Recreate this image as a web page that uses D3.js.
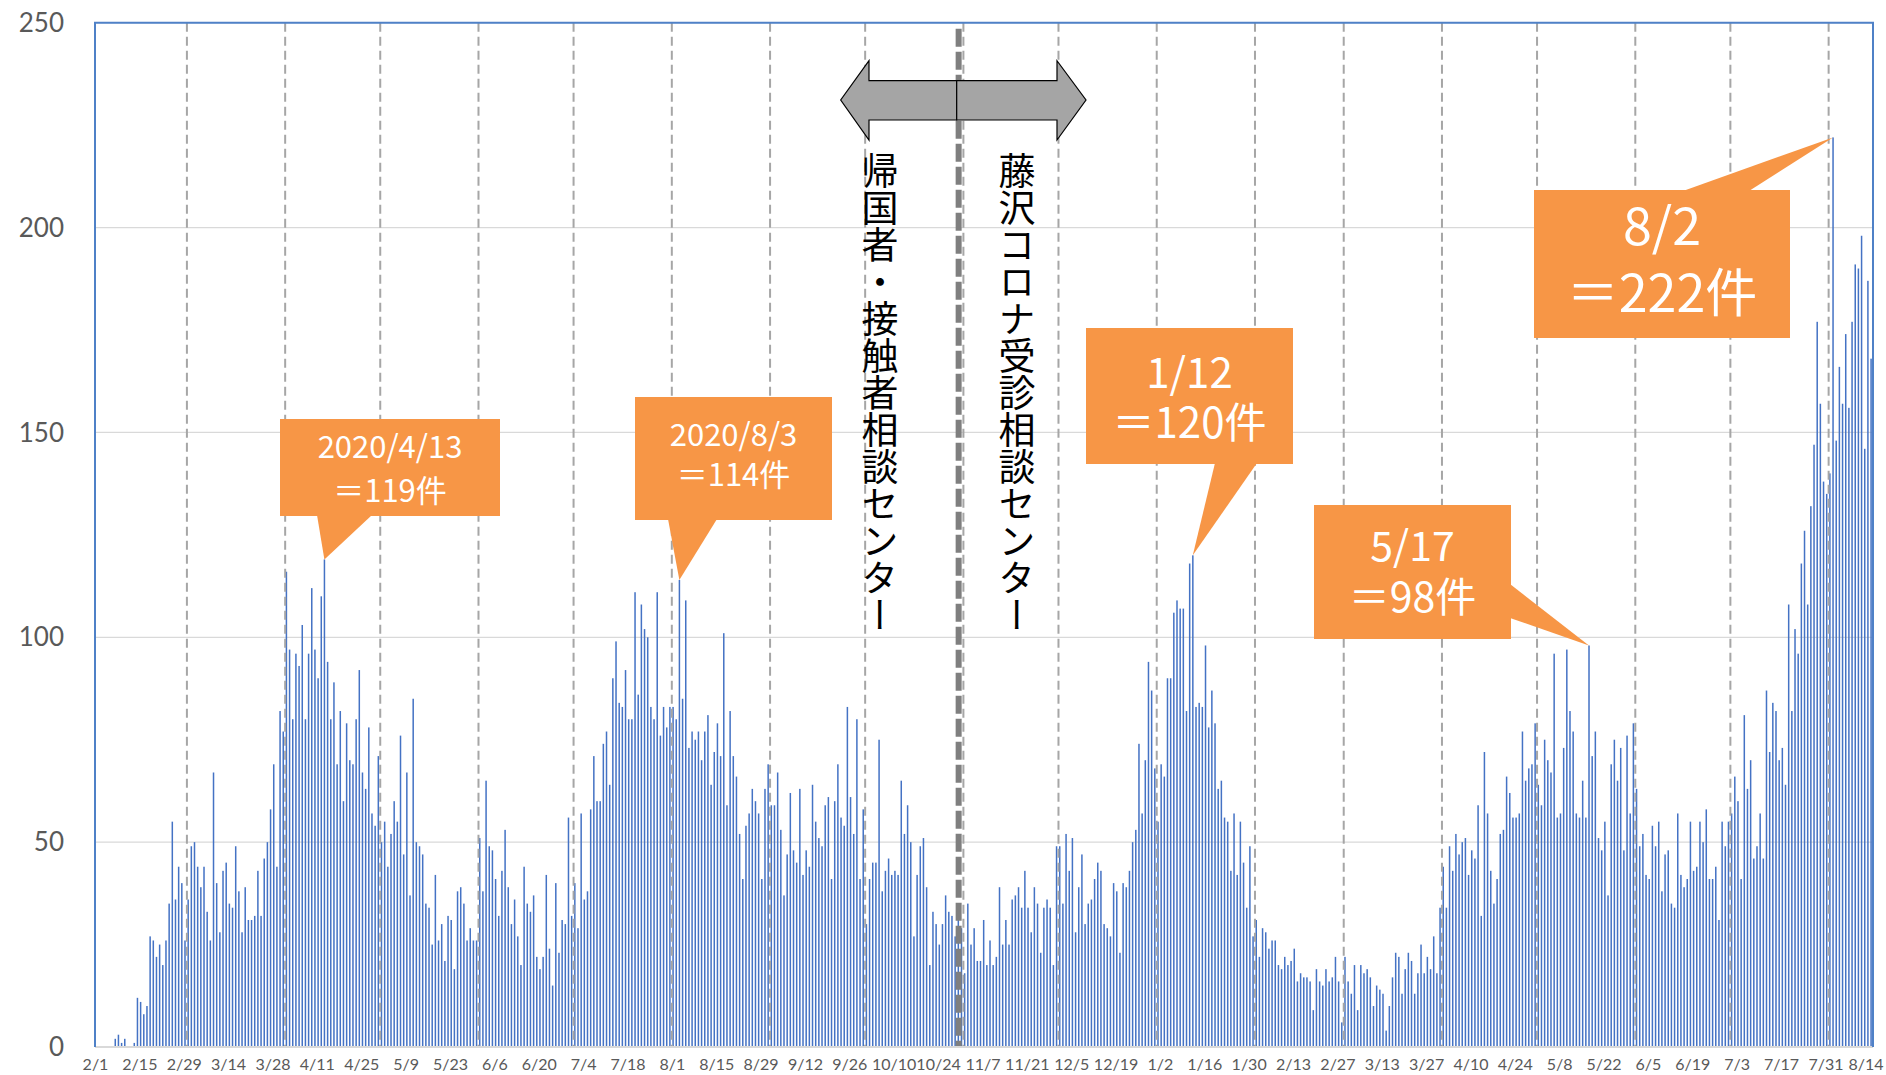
<!DOCTYPE html>
<html>
<head>
<meta charset="utf-8">
<script src="https://cdn.jsdelivr.net/npm/d3@7"></script>
<style>
body { margin: 0; background: #fff; }
</style>
</head>
<body>
<div id="chart"></div>
<script>
// daily consultation counts, 2020/2/1 - 2020/12/31
var counts2020 = [
    0, 0, 0, 0, 0, 0, 2, 3, 1, 2, 0, 0, 1, 12, 11, 8, 10, 27, 26, 22, 25, 20, 26, 35, 55, 36, 44, 40, 26,
    36, 49, 50, 44, 39, 44, 33, 26, 67, 40, 28, 43, 45, 35, 34, 49, 38, 28, 39, 31, 31, 32, 43, 32, 46, 50, 58, 69, 44, 82, 77,
    116, 97, 80, 96, 93, 103, 80, 96, 112, 97, 90, 110, 119, 94, 80, 89, 69, 82, 60, 79, 70, 69, 80, 92, 67, 63, 78, 57, 54, 71,
    50, 55, 44, 52, 60, 55, 76, 47, 67, 37, 85, 50, 49, 47, 35, 34, 25, 42, 26, 30, 21, 32, 31, 19, 38, 39, 35, 26, 29, 26, 26,
    51, 38, 65, 49, 48, 41, 32, 43, 53, 39, 30, 36, 27, 20, 44, 35, 33, 37, 22, 19, 22, 42, 24, 15, 40, 23, 31, 30, 56, 32,
    40, 29, 57, 36, 38, 58, 71, 60, 60, 74, 77, 64, 90, 99, 84, 83, 92, 80, 80, 111, 86, 108, 102, 100, 83, 80, 111, 76, 83, 78, 83,
    83, 80, 114, 85, 109, 73, 77, 75, 77, 70, 77, 81, 64, 72, 79, 71, 101, 59, 82, 71, 66, 52, 41, 54, 57, 63, 60, 57, 41, 63, 69,
    59, 59, 67, 53, 37, 47, 62, 48, 45, 63, 42, 48, 44, 64, 55, 51, 49, 59, 61, 41, 60, 69, 56, 54, 83, 61, 52, 80, 41, 58,
    30, 41, 45, 45, 75, 38, 43, 46, 42, 43, 42, 65, 52, 59, 50, 27, 42, 49, 51, 39, 20, 33, 30, 25, 30, 37, 33, 32, 27, 33, 29,
    18, 35, 25, 29, 21, 21, 31, 20, 26, 20, 22, 39, 25, 31, 25, 36, 37, 39, 34, 43, 34, 28, 39, 35, 23, 34, 36, 34, 20, 49,
    49, 35, 52, 43, 51, 28, 39, 47, 30, 35, 36, 41, 45, 43, 30, 29, 27, 40, 38, 23, 40, 39, 43, 50, 53, 74, 57, 70, 94, 87, 68
];

// 2021/1/1 - 2021/8/14
var counts2021 = [
    55, 69, 66, 90, 90, 106, 109, 107, 107, 82, 118, 120, 83, 84, 83, 98, 78, 87, 79, 63, 65, 56, 55, 43, 57, 42, 55, 45, 34, 49, 27,
    31, 22, 29, 28, 24, 26, 26, 20, 19, 22, 20, 21, 24, 16, 18, 17, 17, 16, 9, 19, 16, 15, 19, 16, 17, 22, 16, 6,
    22, 16, 13, 20, 9, 20, 18, 19, 17, 10, 15, 14, 13, 4, 10, 17, 23, 22, 13, 19, 23, 21, 13, 18, 25, 18, 22, 19, 27, 18, 34,
    44, 34, 49, 43, 52, 47, 50, 51, 42, 48, 46, 59, 32, 72, 57, 43, 35, 41, 52, 53, 66, 62, 56, 56, 57, 77, 65, 68, 69, 79,
    64, 59, 75, 70, 67, 96, 56, 57, 73, 97, 82, 77, 57, 56, 65, 56, 98, 71, 77, 51, 48, 55, 37, 69, 75, 65, 73, 48, 76, 57, 79,
    63, 49, 52, 42, 41, 54, 49, 55, 38, 47, 48, 35, 34, 57, 42, 39, 41, 55, 43, 44, 55, 50, 58, 41, 41, 44, 31, 55, 49, 55,
    57, 66, 60, 41, 81, 63, 70, 46, 49, 57, 46, 87, 72, 84, 82, 70, 73, 64, 108, 82, 102, 96, 118, 126, 108, 132, 147, 177, 157, 138, 135,
    140, 222, 148, 166, 157, 174, 156, 177, 191, 190, 198, 146, 187, 168
];

var yTicks = [0, 50, 100, 150, 200, 250];

var calloutDates = ["2020-04-13", "2020-08-03", "2021-01-12", "2021-05-17", "2021-08-02"];
var calloutValues = [119, 114, 120, 98, 222];
var calloutLines = [
    ["2020/4/13", "＝119件"],
    ["2020/8/3", "＝114件"],
    ["1/12", "＝120件"],
    ["5/17", "＝98件"],
    ["8/2", "＝222件"]
];

var centerNames = ["帰国者・接触者相談センター", "藤沢コロナ受診相談センター"];

var DAY = 864e5;
var start = Date.UTC(2020, 1, 1);
var end = Date.UTC(2021, 7, 15);

var data = counts2020.concat(counts2021).map(function (v, i) {
    return { date: new Date(start + i * DAY), value: v };
});

var W = 1886, H = 1075;
var plotLeft = 95, plotRight = 1873, plotTop = 22.7, plotBottom = 1047;

var x = d3.scaleUtc().domain([start, end]).range([plotLeft, plotRight]);
var y = d3.scaleLinear().domain([0, 250]).range([plotBottom, plotTop]);

var svg = d3.select("#chart").append("svg")
    .attr("width", W)
    .attr("height", H)
    .style("background", "#fff");

// horizontal grid
svg.append("g")
    .selectAll("line")
    .data(yTicks.slice(1))
    .enter().append("line")
    .attr("x1", plotLeft).attr("x2", plotRight)
    .attr("y1", function (d) { return y(d); })
    .attr("y2", function (d) { return y(d); })
    .attr("stroke", "#d9d9d9")
    .attr("stroke-width", 1.3);

// bars
svg.append("g")
    .selectAll("rect")
    .data(data)
    .enter().append("rect")
    .attr("x", function (d) { return x(d.date) + 0.5; })
    .attr("width", 1.5)
    .attr("y", function (d) { return y(d.value); })
    .attr("height", function (d) { return plotBottom - y(d.value); })
    .attr("fill", "#4472c4");

// month separators
var months = d3.utcMonth.range(new Date(Date.UTC(2020, 2, 1)), new Date(end));
svg.append("g")
    .selectAll("line")
    .data(months)
    .enter().append("line")
    .attr("x1", function (d) { return x(d); })
    .attr("x2", function (d) { return x(d); })
    .attr("y1", plotTop).attr("y2", plotBottom)
    .attr("stroke", "#a6a6a6")
    .attr("stroke-width", 2)
    .attr("stroke-dasharray", "9,5");

// switch of the consultation center
var switchX = x(new Date(Date.UTC(2020, 9, 30, 12)));
svg.append("line")
    .attr("x1", switchX).attr("x2", switchX)
    .attr("y1", plotTop + 6).attr("y2", plotBottom)
    .attr("stroke", "#7f7f7f")
    .attr("stroke-width", 6)
    .attr("stroke-dasharray", "18,5");

// axis base and plot border
svg.append("line")
    .attr("x1", plotLeft).attr("x2", plotRight)
    .attr("y1", plotBottom).attr("y2", plotBottom)
    .attr("stroke", "#d9d9d9")
    .attr("stroke-width", 2);
svg.append("path")
    .attr("d", "M" + plotLeft + "," + plotBottom + "V" + plotTop + "H" + plotRight + "V" + plotBottom)
    .attr("fill", "none")
    .attr("stroke", "#4f81c7")
    .attr("stroke-width", 2);

// y labels
svg.append("g")
    .selectAll("text")
    .data(yTicks)
    .enter().append("text")
    .attr("x", 64)
    .attr("y", function (d) { return y(d); })
    .attr("dy", "0.35em")
    .attr("text-anchor", "end")
    .attr("font-family", "Lato, 'Noto Sans', sans-serif")
    .attr("font-size", 26)
    .attr("fill", "#595959")
    .text(function (d) { return d; });

// x labels every 14 days
var xTicks = d3.range(0, 561, 14).map(function (i) { return new Date(start + i * DAY); });
var xaxis = svg.append("g")
    .attr("transform", "translate(0," + (plotBottom + 9) + ")")
    .call(d3.axisBottom(x).tickValues(xTicks).tickSize(0).tickFormat(d3.utcFormat("%-m/%-d")));
xaxis.select(".domain").remove();
xaxis.selectAll("text")
    .attr("font-family", "Lato, 'Noto Sans', sans-serif")
    .attr("font-size", 16)
    .attr("fill", "#595959");
// keep the last label inside the page
xaxis.selectAll(".tick").filter(function (d, i, n) { return i == n.length - 1; })
    .select("text")
    .attr("text-anchor", "end")
    .attr("x", W - 3 - x(xTicks[xTicks.length - 1]));

// callouts
var boxes = [
    { x: 280, y: 419, w: 220, h: 97, side: "bottom", b: [317, 372], fs: 31, ty: [447, 491] },
    { x: 635, y: 397, w: 197, h: 123, side: "bottom", b: [668, 717], fs: 31, ty: [435, 475] },
    { x: 1086, y: 328, w: 207, h: 136, side: "bottom", b: [1215, 1257], fs: 42, ty: [373, 423] },
    { x: 1314, y: 505, w: 197, h: 134, side: "right", b: [584, 618], fs: 41, ty: [546, 597] },
    { x: 1534, y: 190, w: 256, h: 148, side: "top", b: [1683, 1749], fs: 52, ty: [226, 293] }
];

var callouts = svg.append("g");
boxes.forEach(function (bx, i) {
    var tipX = x(new Date(calloutDates[i] + "T00:00:00Z")) + 1.2;
    var tipY = y(calloutValues[i]);
    var pts;
    if (bx.side == "bottom") {
        pts = [[bx.b[0], bx.y + bx.h - 1], [tipX, tipY], [bx.b[1], bx.y + bx.h - 1]];
    } else if (bx.side == "right") {
        pts = [[bx.x + bx.w - 1, bx.b[0]], [tipX, tipY], [bx.x + bx.w - 1, bx.b[1]]];
    } else {
        pts = [[bx.b[0], bx.y + 1], [tipX, tipY], [bx.b[1], bx.y + 1]];
    }
    callouts.append("rect")
        .attr("x", bx.x).attr("y", bx.y)
        .attr("width", bx.w).attr("height", bx.h)
        .attr("fill", "#f79646");
    callouts.append("polygon")
        .attr("points", pts.map(function (p) { return p.join(","); }).join(" "))
        .attr("fill", "#f79646");
    calloutLines[i].forEach(function (t, j) {
        callouts.append("text")
            .attr("x", bx.x + bx.w / 2)
            .attr("y", bx.ty[j])
            .attr("dy", "0.36em")
            .attr("text-anchor", "middle")
            .attr("font-family", "'Noto Sans CJK JP', sans-serif")
            .attr("font-size", bx.fs)
            .attr("fill", "#fff")
            .text(t);
    });
});

// double arrow
var ax = 956.7;
var arrows = svg.append("g")
    .attr("fill", "#a5a5a5")
    .attr("stroke", "#000")
    .attr("stroke-width", 1.2);
arrows.append("polygon")
    .attr("points", [[ax, 80.7], [869, 80.7], [869, 60.7], [840.7, 100], [869, 140], [869, 120], [ax, 120]].join(" "));
arrows.append("polygon")
    .attr("points", [[ax, 80.7], [1057, 80.7], [1057, 60.7], [1086, 100], [1057, 140], [1057, 120], [ax, 120]].join(" "));

// center names, vertical
svg.append("g")
    .selectAll("text")
    .data(centerNames)
    .enter().append("text")
    .attr("x", function (d, i) { return i == 0 ? 880 : 1017; })
    .attr("y", 152)
    .style("writing-mode", "vertical-rl")
    .attr("font-family", "'Noto Sans CJK JP', sans-serif")
    .attr("font-size", 37)
    .attr("fill", "#000")
    .text(function (d) { return d; });
</script>
</body>
</html>
